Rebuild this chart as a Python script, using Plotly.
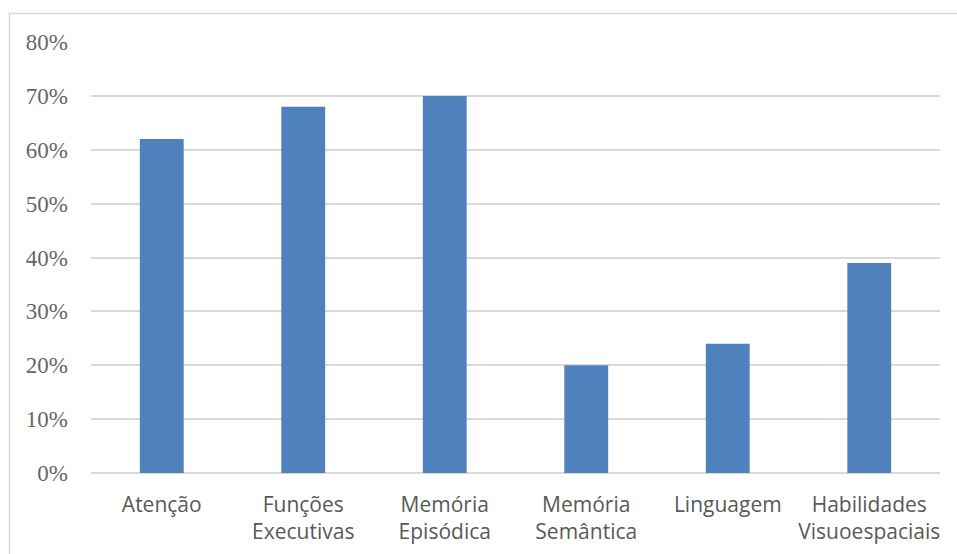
import plotly.graph_objects as go

categories = ["Atenção", "Funções<br>Executivas", "Memória<br>Episódica",
              "Memória<br>Semântica", "Linguagem", "Habilidades<br>Visuoespaciais"]
values = [0.62, 0.68, 0.70, 0.20, 0.24, 0.39]
tick_vals = [0, 0.1, 0.2, 0.3, 0.4, 0.5, 0.6, 0.7, 0.8]
tick_text = ["0%", "10%", "20%", "30%", "40%", "50%", "60%", "70%", "80%"]

W, H = 957, 554
ml, mr, mt, mb = 91, 17, 42, 81
pw, ph = W - ml - mr, H - mt - mb

fig = go.Figure(go.Bar(x=categories, y=values, marker_color="#4f81bd",
                       marker_line_width=0, hoverinfo="skip"))

def px2paper_x(px):
    return (px - ml) / pw

def px2paper_y(py):
    return (H - mb - py) / ph

fig.update_layout(
    width=W, height=H,
    margin=dict(l=ml, r=mr, t=mt, b=mb, pad=0, autoexpand=False),
    paper_bgcolor="white", plot_bgcolor="white",
    bargap=0.69,
    showlegend=False,
    xaxis=dict(showgrid=False, showline=False, zeroline=False, ticks="",
               automargin=False,
               tickfont=dict(family="Open Sans", size=21, color="#595959"),
               ticklabelstandoff=17),
    yaxis=dict(range=[0, 0.8], tickvals=tick_vals, ticktext=tick_text,
               automargin=False,
               showgrid=True, gridcolor="#d9d9d9", gridwidth=1.5,
               zeroline=True, zerolinecolor="#d9d9d9", zerolinewidth=1.5,
               showline=False, ticks="",
               tickfont=dict(family="Liberation Serif", size=23, color="#666666"),
               ticklabelstandoff=22),
    shapes=[dict(type="rect", xref="paper", yref="paper",
                 x0=px2paper_x(9.5), x1=px2paper_x(970),
                 y0=px2paper_y(570), y1=px2paper_y(13.5),
                 line=dict(color="#d9d9d9", width=1.5), layer="below")],
)

fig.write_html("out.html")
